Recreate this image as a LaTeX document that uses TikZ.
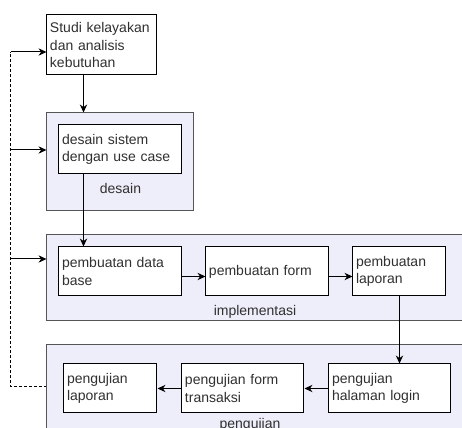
\documentclass[tikz,border=0pt]{standalone}
\usepackage{fontspec}
\setmainfont{Liberation Sans}
\usetikzlibrary{arrows.meta,calc}
\definecolor{txt}{HTML}{303030}
\definecolor{contfill}{HTML}{EEEEFA}
\definecolor{contline}{HTML}{555555}
\tikzset{
  boxnode/.style={draw=black, fill=white, line width=0.75pt, align=left, inner xsep=2.25pt, inner ysep=0pt,
    font=\fontsize{10.5}{13.1}\selectfont, text=txt, anchor=center},
  contnode/.style={draw=contline, fill=contfill, line width=0.75pt, inner sep=0pt, anchor=center},
  lbl/.style={font=\fontsize{10.5}{13.1}\selectfont, text=txt, inner sep=0pt},
  arr/.style={draw=black, line width=0.75pt, -{Stealth[length=6pt,width=5.5pt]}},
  dline/.style={draw=black, line width=0.75pt, dash pattern=on 2.2pt off 1.5pt}
}
\begin{document}
\begin{tikzpicture}[x=0.75pt,y=-0.75pt]
\clip (0,0) rectangle (462,428);
\fill[white] (0,0) rectangle (462,428);
% containers
\node[contnode, minimum width=110.25pt, minimum height=73.5pt] (dcont) at (120.5,162) {};
\node[contnode, minimum width=317.25pt, minimum height=64.5pt] (icont) at (258.5,278) {};
\node[contnode, minimum width=317.25pt, minimum height=75pt] (pcont) at (258.5,395) {};
% boxes
\node[boxnode, text width=78pt, minimum height=45pt] (studi) at (102,45) {Studi kelayakan\\dan analisis\\kebutuhan};
\node[boxnode, text width=87.75pt, minimum height=36.75pt] (dsis) at (120.5,149.5) {desain sistem\\dengan use case};
\node[boxnode, text width=87.75pt, minimum height=36.75pt] (pdb) at (120.5,271.5) {pembuatan data\\base};
\node[boxnode, text width=87.75pt, minimum height=36.75pt] (pform) at (267.5,271.5) {pembuatan form};
\node[boxnode, text width=65.25pt, minimum height=36.75pt] (plap) at (399.5,271.5) {pembuatan\\laporan};
\node[boxnode, text width=65.25pt, minimum height=36.75pt] (ulap) at (110.5,388.5) {pengujian\\laporan};
\node[boxnode, text width=87pt, minimum height=36.75pt] (uform) at (243,388.5) {pengujian form\\transaksi};
\node[boxnode, text width=87pt, minimum height=36.75pt] (ulogin) at (390,388.5) {pengujian\\halaman login};
% labels
\node[lbl] (ldesain) at (120.5,188) {desain};
\node[lbl] (limpl) at (255,312) {implementasi};
\node[lbl] (luji) at (250,425) {pengujian};
% vertical flow
\coordinate (s1) at ([xshift=27.75pt]studi.south west);
\draw[arr] (s1) -- (s1 |- dcont.north);
\coordinate (s2) at ([xshift=18.75pt]dsis.south west);
\draw[arr] (s2) -- (s2 |- pdb.north);
\draw[arr] (plap.south) -- (plap.south |- ulogin.north);
% horizontal flow
\coordinate (h1) at ([yshift=-3.75pt]pdb.east);
\draw[arr] (h1) -- (h1 -| pform.west);
\coordinate (h2) at ([yshift=-3.75pt]pform.east);
\draw[arr] (h2) -- (h2 -| plap.west);
\draw[arr] (ulogin.west) -- (uform.east);
\draw[arr] (uform.west) -- (ulap.east);
% feedback loop
\coordinate (fb0) at (pcont.west |- 0,387);
\coordinate (fbb) at (11,387);
\coordinate (fbt) at (11,52);
\coordinate (fbd) at (11,150);
\coordinate (fbi) at (11,259);
\draw[dline] (fb0) -- (fbb) -- (fbt);
\draw[arr] (fbt) -- (fbt -| studi.west);
\draw[arr] (fbd) -- (fbd -| dcont.west);
\draw[arr] (fbi) -- (fbi -| icont.west);
\end{tikzpicture}
\end{document}
